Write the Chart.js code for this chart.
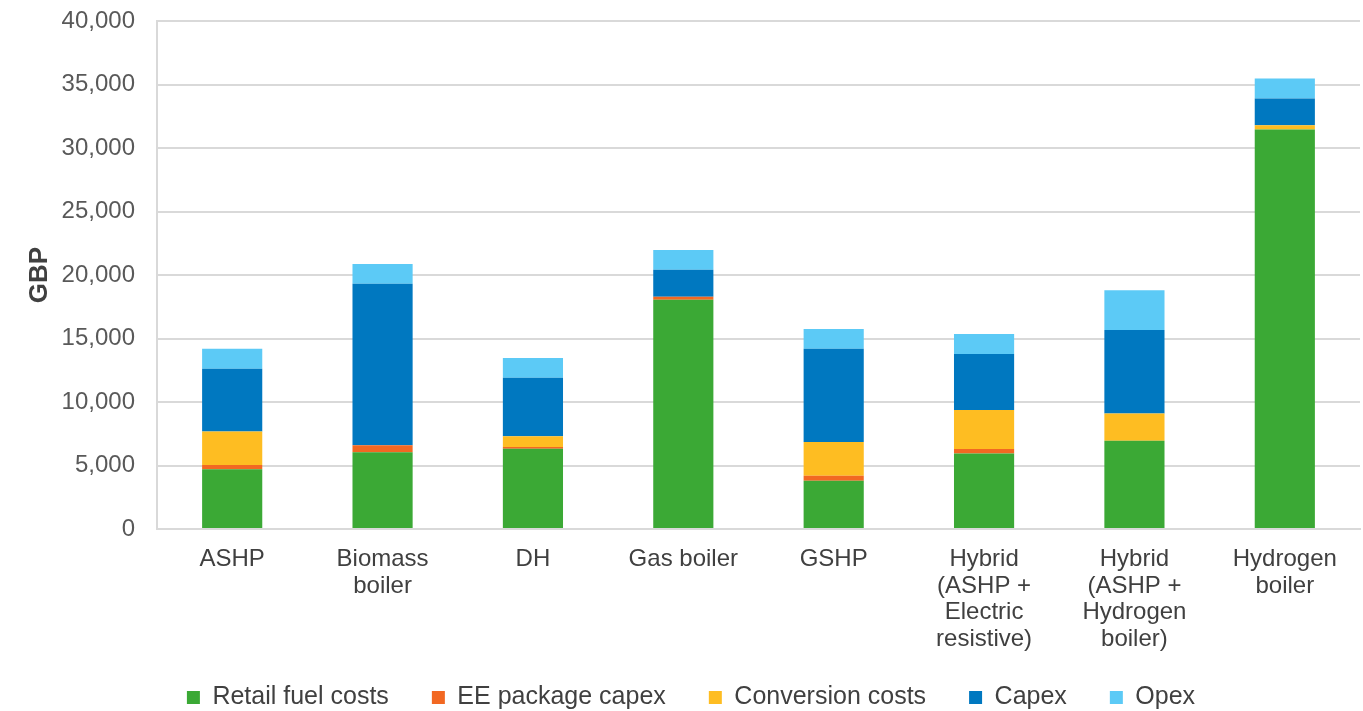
<!DOCTYPE html>
<html>
<head>
<meta charset="utf-8">
<script src="https://cdn.jsdelivr.net/npm/chart.js@4"></script>
<style>
  html, body { margin: 0; padding: 0; background: #fff; }
  #wrap { width: 1363px; height: 711px; }
</style>
</head>
<body>
<div id="wrap"><canvas id="costChart"></canvas></div>
<script>
// categories (multi-line labels as arrays)
const categories = [
  ['ASHP'],
  ['Biomass', 'boiler'],
  ['DH'],
  ['Gas boiler'],
  ['GSHP'],
  ['Hybrid', '(ASHP +', 'Electric', 'resistive)'],
  ['Hybrid', '(ASHP +', 'Hydrogen', 'boiler)'],
  ['Hydrogen', 'boiler']
];

// series values, GBP
const retailFuel = [4700, 6050, 6320, 18050, 3800, 5950, 6950, 31450];
const eePackage  = [330, 540, 140, 240, 400, 350, 0, 0];
const conversion = [2650, 0, 840, 0, 2650, 3070, 2150, 350];
const capex      = [4940, 12730, 4610, 2130, 7350, 4410, 6560, 2100];
const opex       = [1580, 1550, 1550, 1550, 1550, 1570, 3130, 1570];

const yTicks = [0, 5000, 10000, 15000, 20000, 25000, 30000, 35000, 40000];

const font = 'Arial, "Liberation Sans", sans-serif';

new Chart(document.getElementById('costChart').getContext('2d'), {
  type: 'bar',
  data: {
    labels: categories,
    datasets: [
      { label: 'Retail fuel costs',  data: retailFuel, backgroundColor: '#3ba935' },
      { label: 'EE package capex',   data: eePackage,  backgroundColor: '#f26822' },
      { label: 'Conversion costs',   data: conversion, backgroundColor: '#febd22' },
      { label: 'Capex',              data: capex,      backgroundColor: '#0078c0' },
      { label: 'Opex',               data: opex,       backgroundColor: '#5ccaf6' }
    ]
  },
  options: {
    responsive: true,
    maintainAspectRatio: false,
    animation: false,
    layout: { padding: { left: 22, right: 3, top: 21, bottom: -9 } },
    datasets: { bar: { categoryPercentage: 1.0, barPercentage: 0.4 } },
    plugins: {
      tooltip: { enabled: false },
      legend: {
        position: 'bottom',
        labels: {
          color: '#404040',
          font: { family: font, size: 25 },
          boxWidth: 13, boxHeight: 13,
          padding: 43
        }
      }
    },
    scales: {
      x: {
        stacked: true,
        afterFit: axis => {
          axis.height = 113;
          axis.paddingLeft = 0;
          axis.paddingRight = 0;
          // let the 4-line labels run past the axis box instead of being clipped
          axis._computeLabelArea = () => null;
        },
        grid: { display: false, drawTicks: false },
        border: { color: '#d9d9d9', width: 2 },
        ticks: {
          color: '#404040',
          font: { family: font, size: 24, lineHeight: 1.11 },
          maxRotation: 0, autoSkip: false, padding: 17
        }
      },
      y: {
        stacked: true,
        min: 0, max: 40000,
        afterBuildTicks: axis => { axis.ticks = yTicks.map(v => ({ value: v })); },
        afterFit: axis => {
          axis.width = 135;
          axis.paddingTop = 0;
          axis.paddingBottom = 0;
        },
        grid: { color: '#d9d9d9', lineWidth: 2, drawTicks: false },
        border: { color: '#d9d9d9', width: 2 },
        ticks: {
          color: '#595959',
          font: { family: font, size: 24 },
          padding: 22,
          callback: v => v.toLocaleString('en-GB')
        },
        title: {
          display: true, text: 'GBP', color: '#404040',
          font: { family: font, size: 26, weight: 'bold' },
          padding: { top: 2, bottom: 0 }
        }
      }
    }
  }
});
</script>
</body>
</html>
